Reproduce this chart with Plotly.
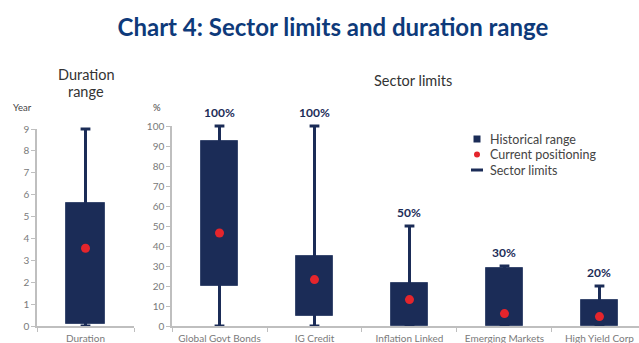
import plotly.graph_objects as go

# ---- data ----
duration_cat = ["Duration"]
duration_low = [0.1]
duration_high = [5.6]
duration_min = [0]
duration_max = [9]
duration_current = [3.55]

sectors = ["Global Govt Bonds", "IG Credit", "Inflation Linked", "Emerging Markets", "High Yield Corp"]
hist_low = [20, 5, 0, 0, 0]
hist_high = [92.5, 35, 21.5, 29, 12.8]
limit_min = [0, 0, 0, 0, 0]
sector_limit = [100, 100, 50, 30, 20]
current_pos = [46.5, 23.2, 13.2, 6.2, 4.7]
limit_labels = ["100%", "100%", "50%", "30%", "20%"]

legend_labels = ["Historical range", "Current positioning", "Sector limits"]

NAVY = "#1b2c57"
RED = "#e4252c"
AXIS = "#bfbfbf"
TICK = "#7a7a7a"
FONT = "Lato"
W, H, T, B = 639, 343, 126, 17
PLOT_H = H - T - B

fig = go.Figure()


def whiskers(cats, lo, hi, xa, ya):
    xs, ys = [], []
    for c, a, b in zip(cats, lo, hi):
        xs += [c, c, None]
        ys += [a, b, None]
    fig.add_trace(go.Scatter(x=xs, y=ys, mode="lines", line=dict(color=NAVY, width=3),
                             xaxis=xa, yaxis=ya, showlegend=False, cliponaxis=False,
                             hoverinfo="skip"))
    fig.add_trace(go.Scatter(x=list(cats) * 2, y=list(lo) + list(hi), mode="markers",
                             marker=dict(symbol="line-ew", size=7,
                                         line=dict(color=NAVY, width=3)),
                             xaxis=xa, yaxis=ya, showlegend=False, cliponaxis=False,
                             hoverinfo="skip"))


def boxes(cats, lo, hi, width, xa, ya):
    fig.add_trace(go.Bar(x=cats, y=[h - l for l, h in zip(lo, hi)], base=lo, width=width,
                         marker=dict(color=NAVY, line=dict(color="#3a4a70", width=1)),
                         xaxis=xa, yaxis=ya, showlegend=False))


def dots(cats, vals, xa, ya):
    fig.add_trace(go.Scatter(x=cats, y=vals, mode="markers",
                             marker=dict(color=RED, size=9),
                             xaxis=xa, yaxis=ya, showlegend=False, cliponaxis=False))


# duration panel
whiskers(duration_cat, duration_min, duration_max, "x", "y")
boxes(duration_cat, duration_low, duration_high, 0.4, "x", "y")
dots(duration_cat, duration_current, "x", "y")

# sector panel
whiskers(sectors, limit_min, sector_limit, "x2", "y2")
boxes(sectors, hist_low, hist_high, 0.39, "x2", "y2")
dots(sectors, current_pos, "x2", "y2")

for s, lim, lab in zip(sectors, sector_limit, limit_labels):
    fig.add_annotation(x=s, y=lim, xref="x2", yref="y2", text=f"<b>{lab}</b>",
                       showarrow=False, yshift=14,
                       font=dict(family=FONT, size=12, color=NAVY))

axis_common = dict(showline=True, linecolor=AXIS, linewidth=1.5, showgrid=False,
                   zeroline=False, ticks="outside", tickcolor=AXIS, ticklen=4,
                   tickfont=dict(family=FONT, size=10, color=TICK))

fig.update_layout(
    width=W, height=H,
    margin=dict(l=0, r=0, t=T, b=B),
    paper_bgcolor="white", plot_bgcolor="white",
    font=dict(family=FONT, color="#333333"),
    bargap=0,
    showlegend=False,
    title=dict(text="<b>Chart 4: Sector limits and duration range</b>",
               x=0.521, xanchor="center", y=0.92, yanchor="middle",
               font=dict(family=FONT, size=24, color="#0e3a7a")),
    xaxis=dict(domain=[37 / W, 134 / W], type="category", range=[-0.5, 0.5],
               tickson="boundaries", anchor="y", ticklabelstandoff=2, **axis_common),
    yaxis=dict(domain=[0, 197 / PLOT_H], range=[0, 9], dtick=1, anchor="x", **axis_common),
    xaxis2=dict(domain=[172 / W, 1], type="category", range=[-0.5, 4.416],
                tickson="boundaries", anchor="y2", ticklabelstandoff=2, **axis_common),
    yaxis2=dict(domain=[0, 1], range=[0, 100], dtick=10, anchor="x2", **axis_common),
)


def px(x, y):
    """Convert page pixel position to paper coordinates."""
    return x / W, (H - B - y) / PLOT_H


def px_note(text, x, y, size, color="#333333", anchor="center"):
    xp, yp = px(x, y)
    fig.add_annotation(x=xp, y=yp, xref="paper", yref="paper",
                       text=text, showarrow=False, xanchor=anchor, yanchor="middle",
                       font=dict(family=FONT, size=size, color=color))


# panel headings and axis units
px_note("Duration", 86, 74, 14.5)
px_note("range", 86, 91, 14.5)
px_note("Sector limits", 413, 80, 14.5)
px_note("Year", 22, 108, 9.5, "#444444")
px_note("%", 157, 108, 9.5, "#444444")

# legend
lx, rows = 477, [139, 154.5, 170]
x0, y0 = px(lx - 3.5, rows[0] - 3.5)
x1, y1 = px(lx + 3.5, rows[0] + 3.5)
fig.add_shape(type="rect", xref="paper", yref="paper", x0=x0, x1=x1, y0=y0, y1=y1,
              fillcolor=NAVY, line_width=0)
x0, y0 = px(lx - 3, rows[1] - 3)
x1, y1 = px(lx + 3, rows[1] + 3)
fig.add_shape(type="circle", xref="paper", yref="paper", x0=x0, x1=x1, y0=y0, y1=y1,
              fillcolor=RED, line_width=0)
x0, y0 = px(lx - 6, rows[2])
x1, _ = px(lx + 6, rows[2])
fig.add_shape(type="line", xref="paper", yref="paper", x0=x0, x1=x1, y0=y0, y1=y0,
              line=dict(color=NAVY, width=3))
for lab, ry in zip(legend_labels, rows):
    px_note(lab, 488, ry, 12.5, "#444444", anchor="left")

fig.write_html("out.html")
